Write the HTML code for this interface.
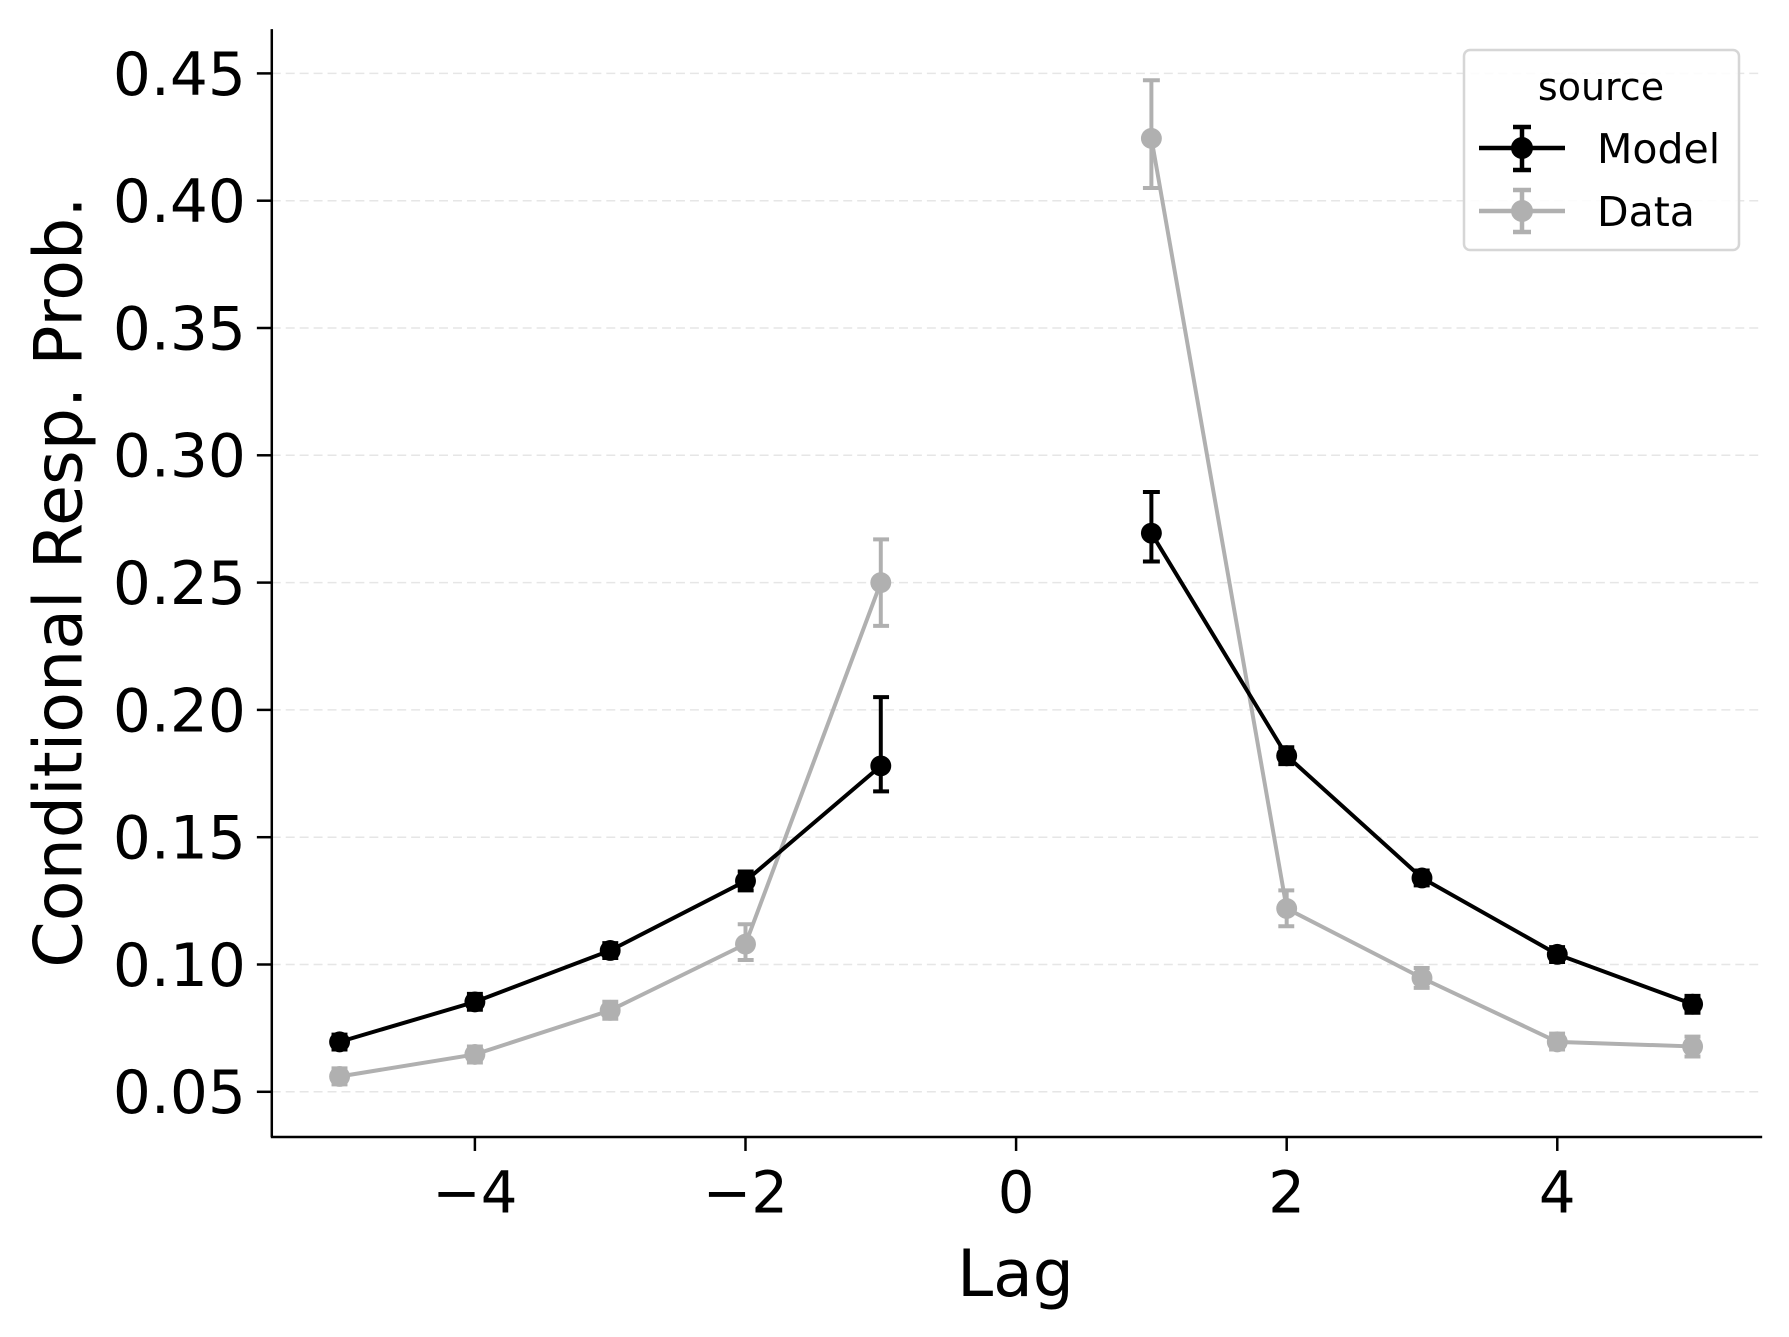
<!DOCTYPE html>
<html><head><meta charset="utf-8"><style>
html,body{margin:0;padding:0;background:#fff}
svg{display:block}
text{font-family:"DejaVu Sans","Liberation Sans",sans-serif;fill:#000}
</style></head><body>
<svg width="1789" height="1337" viewBox="0 0 1789 1337" xmlns="http://www.w3.org/2000/svg">
<rect width="1789" height="1337" fill="#fff"/>
<g transform="matrix(0.99558,0,0,0.99453,0,0.3)">
<g stroke="#e6e6e6" stroke-width="1.5" stroke-dasharray="9,5">
<line x1="273" x2="1770" y1="1097.5" y2="1097.5"/>
<line x1="273" x2="1770" y1="969.5" y2="969.5"/>
<line x1="273" x2="1770" y1="841.5" y2="841.5"/>
<line x1="273" x2="1770" y1="713.5" y2="713.5"/>
<line x1="273" x2="1770" y1="585.5" y2="585.5"/>
<line x1="273" x2="1770" y1="457.5" y2="457.5"/>
<line x1="273" x2="1770" y1="329.5" y2="329.5"/>
<line x1="273" x2="1770" y1="201.5" y2="201.5"/>
<line x1="273" x2="1770" y1="73.5" y2="73.5"/>
</g>
<g stroke="#000" stroke-width="2.5" fill="none">
<line x1="273" y1="29" x2="273" y2="1143"/>
<line x1="272" y1="1143" x2="1770" y2="1143"/>
<line x1="258" x2="273" y1="1097.5" y2="1097.5"/>
<line x1="258" x2="273" y1="969.5" y2="969.5"/>
<line x1="258" x2="273" y1="841.5" y2="841.5"/>
<line x1="258" x2="273" y1="713.5" y2="713.5"/>
<line x1="258" x2="273" y1="585.5" y2="585.5"/>
<line x1="258" x2="273" y1="457.5" y2="457.5"/>
<line x1="258" x2="273" y1="329.5" y2="329.5"/>
<line x1="258" x2="273" y1="201.5" y2="201.5"/>
<line x1="258" x2="273" y1="73.5" y2="73.5"/>
<line x1="477" x2="477" y1="1143" y2="1157"/>
<line x1="748.8" x2="748.8" y1="1143" y2="1157"/>
<line x1="1020.6" x2="1020.6" y1="1143" y2="1157"/>
<line x1="1292.4" x2="1292.4" y1="1143" y2="1157"/>
<line x1="1564.2" x2="1564.2" y1="1143" y2="1157"/>
</g>
<g font-size="60" text-anchor="end">
<text x="247" y="1119">0.05</text>
<text x="247" y="991">0.10</text>
<text x="247" y="863">0.15</text>
<text x="247" y="735">0.20</text>
<text x="247" y="607">0.25</text>
<text x="247" y="479">0.30</text>
<text x="247" y="351">0.35</text>
<text x="247" y="223">0.40</text>
<text x="247" y="95">0.45</text>
</g>
<g font-size="58" text-anchor="middle">
<text x="477" y="1219">−4</text>
<text x="748.8" y="1219">−2</text>
<text x="1020.6" y="1219">0</text>
<text x="1292.4" y="1219">2</text>
<text x="1564.2" y="1219">4</text>
</g>
<text x="1020" y="1303" font-size="65" text-anchor="middle">Lag</text>
<text transform="translate(82,585) rotate(-90)" font-size="67" text-anchor="middle">Conditional Resp. Prob.</text>

<g stroke="#b0b0b0" stroke-width="4" fill="none">
<polyline points="341.1,1082.1 477,1059.9 612.9,1015.6 748.8,949 884.7,585.5"/>
<polyline points="1156.5,138.8 1292.4,913.2 1428.3,983.1 1564.2,1047.3 1700.1,1051.9"/>
<path d="M341.1,1074V1090M333,1074H349M333,1090H349
M477,1052V1068M469,1052H485M469,1068H485
M612.9,1007V1024M605,1007H621M605,1024H621
M748.8,929V965M741,929H757M741,965H757
M884.7,542V629M877,542H893M877,629H893
M1156.5,80.4V188.7M1148,80.4H1165M1148,188.7H1165
M1292.4,895V931M1284,895H1300M1284,931H1300
M1428.3,973V993M1420,973H1436M1420,993H1436
M1564.2,1039V1055M1556,1039H1572M1556,1055H1572
M1700.1,1042V1062M1692,1042H1708M1692,1062H1708"/>
</g>
<g fill="#b0b0b0">
<circle cx="341.1" cy="1082.1" r="10.5"/><circle cx="477" cy="1059.9" r="10.5"/><circle cx="612.9" cy="1015.6" r="10.5"/><circle cx="748.8" cy="949" r="10.5"/><circle cx="884.7" cy="585.5" r="10.5"/>
<circle cx="1156.5" cy="138.8" r="10.5"/><circle cx="1292.4" cy="913.2" r="10.5"/><circle cx="1428.3" cy="983.1" r="10.5"/><circle cx="1564.2" cy="1047.3" r="10.5"/><circle cx="1700.1" cy="1051.9" r="10.5"/>
</g>

<g stroke="#000" stroke-width="4" fill="none">
<polyline points="341.1,1047.3 477,1007.1 612.9,955.4 748.8,885.6 884.7,769.8"/>
<polyline points="1156.5,535.8 1292.4,759.6 1428.3,882.5 1564.2,959.3 1700.1,1009.4"/>
<path d="M341.1,1040V1055M333,1040H349M333,1055H349
M477,999V1015M469,999H485M469,1015H485
M612.9,948V963M605,948H621M605,963H621
M748.8,876V895M741,876H757M741,895H757
M884.7,700.7V795.4M877,700.7H893M877,795.4H893
M1156.5,494.4V564.3M1148,494.4H1165M1148,564.3H1165
M1292.4,751V768M1284,751H1300M1284,768H1300
M1428.3,875V890M1420,875H1436M1420,890H1436
M1564.2,952V967M1556,952H1572M1556,967H1572
M1700.1,1001V1018M1692,1001H1708M1692,1018H1708"/>
</g>
<g fill="#000">
<circle cx="341.1" cy="1047.3" r="10.5"/><circle cx="477" cy="1007.1" r="10.5"/><circle cx="612.9" cy="955.4" r="10.5"/><circle cx="748.8" cy="885.6" r="10.5"/><circle cx="884.7" cy="769.8" r="10.5"/>
<circle cx="1156.5" cy="535.8" r="10.5"/><circle cx="1292.4" cy="759.6" r="10.5"/><circle cx="1428.3" cy="882.5" r="10.5"/><circle cx="1564.2" cy="959.3" r="10.5"/><circle cx="1700.1" cy="1009.4" r="10.5"/>
</g>
</g>

<g transform="translate(-8,0)">
<rect x="1472" y="50" width="275" height="200" rx="6" fill="#fff" fill-opacity="0.85" stroke="#d6d6d6" stroke-width="2.5"/>
<text x="1609" y="100" font-size="38" text-anchor="middle">source</text>
<g stroke="#000" stroke-width="4.5" fill="none">
<path d="M1487,148H1573M1530,127V170M1521,127H1539M1521,170H1539"/>
</g>
<circle cx="1530" cy="148" r="11" fill="#000"/>
<g stroke="#b0b0b0" stroke-width="4.5" fill="none">
<path d="M1487,211H1573M1530,190V232M1521,190H1539M1521,232H1539"/>
</g>
<circle cx="1530" cy="211" r="11" fill="#b0b0b0"/>
<text x="1605" y="163" font-size="41">Model</text>
<text x="1605" y="226" font-size="41">Data</text>
</g>
</svg>
</body></html>
